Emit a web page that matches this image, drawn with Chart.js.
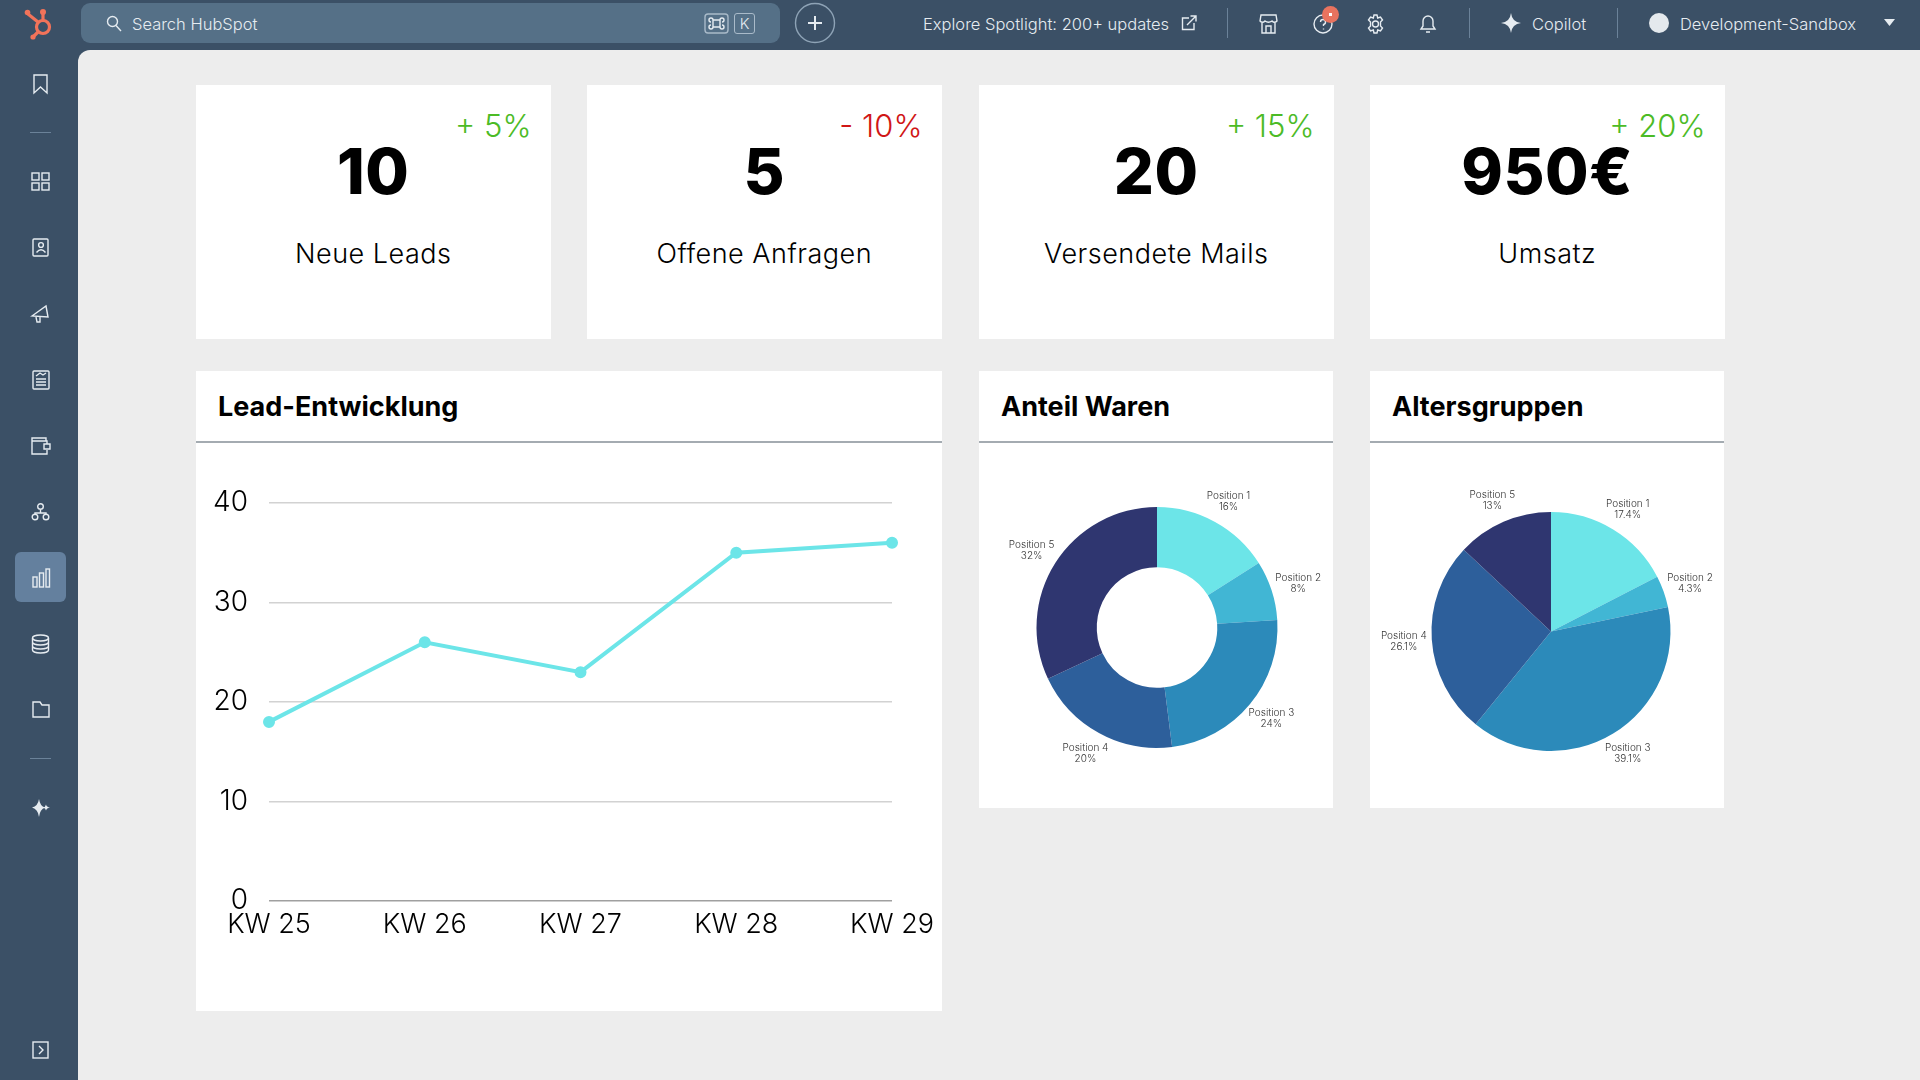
<!DOCTYPE html>
<html>
<head>
  <title>HubSpot Dashboard</title>
  <meta charset="UTF-8">
  <style>
    html, body { margin: 0; padding: 0; }
    body {
      width: 1920px;
      height: 1080px;
      overflow: hidden;
      position: relative;
      background: #3b5066;
      font-family: Inter, Arial, sans-serif;
    }
    .abs { position: absolute; }
    #content {
      left: 78px; top: 50px; width: 1842px; height: 1030px;
      background: #ededed;
      border-top-left-radius: 12px;
    }
    #search {
      left: 81px; top: 3px; width: 699px; height: 40px;
      background: #557087;
      border-radius: 9px;
    }
    .bar-text {
      color: #e6ecf1;
      font-size: 16.5px;
      font-weight: 300;
      white-space: nowrap;
      line-height: 20px;
    }
    .divider { width: 1px; height: 30px; top: 8px; background: #6b8299; }
    .card { background: #fff; }
    .kpi-change {
      position: absolute; right: 19px; top: 22px;
      font-size: 31px; font-weight: 300; line-height: 38px;
      white-space: nowrap;
    }
    .kpi-value {
      position: absolute; left: 0; width: 100%; top: 48px;
      text-align: center;
      font-size: 63px; font-weight: 800; line-height: 76px; color: #000;
      letter-spacing: 0.5px;
    }
    .kpi-label {
      position: absolute; left: 0; width: 100%; top: 152px;
      text-align: center;
      font-size: 27px; font-weight: 300; line-height: 34px; color: #000;
      letter-spacing: 0.5px;
    }
    .panel-title {
      position: absolute; left: 22px; top: 18px;
      font-size: 27px; font-weight: 700; line-height: 36px; color: #000;
      white-space: nowrap;
    }
    .panel-line {
      position: absolute; left: 0; right: 0; top: 70px; height: 2px;
      background: #a4abb1;
    }
    canvas { position: absolute; }
    svg { position: absolute; overflow: visible; fill: none; stroke: #e6ecf1; stroke-width: 1.4; }
  </style>
  <script src="https://cdn.jsdelivr.net/npm/chart.js"></script>
</head>
<body>
  <div id="content" class="abs"></div>

  <!-- TOP BAR -->
  <svg style="left:22px;top:5px" width="38" height="36" viewBox="0 0 38 36">
    <g stroke="#f2735a" stroke-width="3.2" fill="none">
      <circle cx="21" cy="22" r="6.5"/>
      <path d="M21 15 V8"/><path d="M16 17 L6 9"/><path d="M16 27 L12 31"/>
    </g>
    <g fill="#f2735a" stroke="none">
      <circle cx="21" cy="7" r="3"/><circle cx="5.5" cy="7.5" r="2.8"/><circle cx="11" cy="32" r="2.6"/>
    </g>
  </svg>
  <div id="search" class="abs"></div>
  <svg style="left:105px;top:14px" width="18" height="18" viewBox="0 0 18 18"><circle cx="7.5" cy="7.5" r="5"/><path d="M11 11.5 L16 17"/></svg>
  <div class="abs bar-text" style="left:132px;top:14px">Search HubSpot</div>
  <svg style="left:704px;top:13px" width="25" height="21" viewBox="0 0 25 21"><rect x="1" y="1" width="23" height="19" rx="3" stroke="#a9bac9"/><path d="M9 7 H16 V14 H9 Z M9 7 a2 2 0 1 0 -2 2 M16 7 a2 2 0 1 1 2 2 M9 14 a2 2 0 1 1 -2 -2 M16 14 a2 2 0 1 0 2 -2"/></svg>
  <div class="abs" style="left:734px;top:13px;width:19px;height:19px;border:1px solid #a9bac9;border-radius:3px;color:#e6ecf1;font-size:15px;font-weight:300;text-align:center;line-height:19px">K</div>
  <svg style="left:795px;top:3px" width="40" height="40" viewBox="0 0 40 40"><circle cx="20" cy="20" r="19.5" stroke="#8ea3b6"/><path d="M20 13 V27 M13 20 H27" stroke-width="2"/></svg>
  <div class="abs bar-text" style="left:923px;top:14px">Explore Spotlight: 200+ updates</div>
  <svg style="left:1181px;top:15px" width="16" height="16" viewBox="0 0 16 16"><path d="M8 3 H1.5 V14.5 H13 V8 M6 10 L14.5 1.5 M9.5 1 H15 V6.5"/></svg>
  <div class="abs divider" style="left:1227px"></div>
  <svg style="left:1259px;top:14px" width="19" height="20" viewBox="0 0 19 20"><path d="M2 1 H17 L18 7 Q15.5 9.5 13 7 Q9.5 9.5 6 7 Q3.5 9.5 1 7 Z M3 9 V19 H16 V9 M7 19 V12 H12 V19"/></svg>
  <svg style="left:1313px;top:14px" width="20" height="20" viewBox="0 0 20 20"><circle cx="10" cy="10" r="9"/><path d="M7.5 8 a2.5 2.5 0 1 1 3 2.5 V12 M10.5 14.5 V15.5"/></svg>
  <div class="abs" style="left:1322px;top:6px;width:17px;height:17px;border-radius:50%;background:#e8735f"></div>
  <div class="abs" style="left:1329px;top:13px;width:3px;height:3px;background:#fff"></div>
  <svg style="left:1366px;top:14px" width="19" height="20" viewBox="0 0 19 20"><circle cx="9.5" cy="10" r="3"/><path d="M8 1 H11 L11.7 4 L14.5 3 L16.5 6 L14.5 8 L14.5 12 L16.5 14 L14.5 17 L11.7 16 L11 19 H8 L7.3 16 L4.5 17 L2.5 14 L4.5 12 L4.5 8 L2.5 6 L4.5 3 L7.3 4 Z"/></svg>
  <svg style="left:1420px;top:14px" width="16" height="20" viewBox="0 0 16 20"><path d="M1 15 H15 L13 12 V7 a5 5 0 0 0 -10 0 V12 Z M6 18 H10"/></svg>
  <div class="abs divider" style="left:1469px"></div>
  <svg style="left:1501px;top:13px" width="20" height="20" viewBox="0 0 20 20"><path d="M10 0 Q11 9 20 10 Q11 11 10 20 Q9 11 0 10 Q9 9 10 0 Z" fill="#e6ecf1" stroke="none"/></svg>
  <div class="abs bar-text" style="left:1532px;top:14px">Copilot</div>
  <div class="abs divider" style="left:1617px"></div>
  <div class="abs" style="left:1649px;top:13px;width:20px;height:20px;border-radius:50%;background:#e4e9ed"></div>
  <div class="abs bar-text" style="left:1680px;top:14px">Development-Sandbox</div>
  <svg style="left:1884px;top:19px" width="11" height="8" viewBox="0 0 11 8"><path d="M0 0 H11 L5.5 7 Z" fill="#e6ecf1" stroke="none"/></svg>

  <!-- SIDEBAR -->
  <svg style="left:33px;top:74px" width="15" height="20" viewBox="0 0 15 20"><path d="M1 1 H14 V19 L7.5 13 L1 19 Z"/></svg>
  <div class="abs" style="left:30px;top:132px;width:21px;height:1px;background:#6b8299"></div>
  <svg style="left:31px;top:172px" width="19" height="19" viewBox="0 0 19 19"><rect x="1" y="1" width="7" height="7"/><rect x="11" y="1" width="7" height="7"/><rect x="1" y="11" width="7" height="7"/><rect x="11" y="11" width="7" height="7"/></svg>
  <svg style="left:32px;top:238px" width="17" height="19" viewBox="0 0 17 19"><rect x="1" y="1" width="15" height="17" rx="1"/><circle cx="9" cy="7" r="2.4"/><path d="M4.5 14.5 Q9 9 13.5 14.5"/></svg>
  <svg style="left:31px;top:304px" width="19" height="19" viewBox="0 0 19 19"><path d="M1 12 L15 2 L17 13 Z M5 13 L6 18 H9 L9 13"/></svg>
  <svg style="left:32px;top:370px" width="18" height="20" viewBox="0 0 18 20"><rect x="1" y="1" width="16" height="18" rx="1"/><path d="M4 9 H14 M4 12 H14 M4 15 H14 M4 6 L8 3 L11 5 L14 3"/></svg>
  <svg style="left:31px;top:437px" width="20" height="18" viewBox="0 0 20 18"><path d="M15 4 V1 H1 V17 H16 V13 M1 4 H16 V7 M13 7 H19 V12 H13 Z"/></svg>
  <svg style="left:32px;top:503px" width="17" height="18" viewBox="0 0 17 18"><circle cx="8.5" cy="3.5" r="2.8"/><circle cx="3" cy="14" r="2.8"/><circle cx="14" cy="14" r="2.8"/><path d="M8.5 6.5 V10 M3 11 V10 H14 V11"/></svg>
  <div class="abs" style="left:15px;top:552px;width:51px;height:50px;background:#64809e;border-radius:6px"></div>
  <svg style="left:32px;top:568px" width="18" height="20" viewBox="0 0 18 20"><rect x="1" y="9" width="4" height="10"/><rect x="7.5" y="5" width="4" height="14"/><rect x="14" y="1" width="3.5" height="18"/></svg>
  <svg style="left:31px;top:634px" width="19" height="20" viewBox="0 0 19 20"><ellipse cx="9.5" cy="4" rx="8" ry="3"/><path d="M1.5 4 V16 a8 3 0 0 0 16 0 V4 M1.5 8 a8 3 0 0 0 16 0 M1.5 12 a8 3 0 0 0 16 0"/></svg>
  <svg style="left:32px;top:701px" width="18" height="17" viewBox="0 0 18 17"><path d="M1 1 H8 L10 4 H17 V16 H1 Z"/></svg>
  <div class="abs" style="left:30px;top:758px;width:21px;height:1px;background:#6b8299"></div>
  <svg style="left:31px;top:798px" width="20" height="20" viewBox="0 0 20 20"><path d="M8 1 Q9 8 14 9.5 Q9 11 8 19 Q7 11 1 9.5 Q7 8 8 1 Z M15 6.5 Q15.5 9 19 9.5 Q15.5 10 15 12.5 Q14.5 10 12 9.5 Q14.5 9 15 6.5 Z" fill="#e6ecf1" stroke="none"/></svg>
  <svg style="left:32px;top:1041px" width="17" height="18" viewBox="0 0 17 18"><rect x="1" y="1" width="15" height="16"/><path d="M7 5 L11 9 L7 13"/></svg>

  <!-- KPI CARDS, filled from the arrays below -->
  <div id="kpis"></div>

  <!-- PANELS -->
  <div class="abs card" style="left:196px;top:371px;width:745.5px;height:640px">
    <div class="panel-title">Lead-Entwicklung</div>
    <div class="panel-line"></div>
  </div>
  <div class="abs card" style="left:979px;top:371px;width:354px;height:437px">
    <div class="panel-title">Anteil Waren</div>
    <div class="panel-line"></div>
  </div>
  <div class="abs card" style="left:1370px;top:371px;width:354px;height:437px">
    <div class="panel-title">Altersgruppen</div>
    <div class="panel-line"></div>
  </div>

  <canvas id="leadChart" width="746" height="568" style="left:196px;top:443px"></canvas>
  <canvas id="warenChart" width="354" height="365" style="left:980px;top:444.5px"></canvas>
  <canvas id="alterChart" width="354" height="365" style="left:1374px;top:449px"></canvas>

  <script>
    const kpiChanges = ["+ 5%", "- 10%", "+ 15%", "+ 20%"];
    const kpiValues = ["10", "5", "20", "950€"];
    const kpiLabels = ["Neue Leads", "Offene Anfragen", "Versendete Mails", "Umsatz"];
    const kpiColors = ["#4cbb26", "#d01616", "#4cbb26", "#4cbb26"];
    const kpiLefts = [196, 587, 979, 1370];

    const weeks = ["KW 25", "KW 26", "KW 27", "KW 28", "KW 29"];
    const leads = [18, 26, 23, 35, 36];

    const positions = ["Position 1", "Position 2", "Position 3", "Position 4", "Position 5"];
    const warenShare = [16, 8, 24, 20, 32];
    const alterShare = [17.4, 4.3, 39.1, 26.1, 13];
    const sliceColors = ["#6ce5e8", "#41b6d4", "#2c8aba", "#2d5f9b", "#2f3670"];

    const kpiBox = document.getElementById("kpis");
    kpiLabels.forEach(function (label, i) {
      const card = document.createElement("div");
      card.className = "abs card";
      card.style.cssText = "left:" + kpiLefts[i] + "px;top:85px;width:354.5px;height:254px";
      card.innerHTML =
        '<div class="kpi-change" style="color:' + kpiColors[i] + '">' + kpiChanges[i] + "</div>" +
        '<div class="kpi-value">' + kpiValues[i] + "</div>" +
        '<div class="kpi-label">' + label + "</div>";
      kpiBox.appendChild(card);
    });

    // labels around the slices, two lines: name and percent
    const sliceLabels = {
      id: "sliceLabels",
      afterDatasetsDraw(chart) {
        const ctx = chart.ctx;
        const arcs = chart.getDatasetMeta(0).data;
        ctx.save();
        ctx.font = "300 10px Inter";
        ctx.fillStyle = "#333";
        ctx.textAlign = "center";
        ctx.textBaseline = "middle";
        arcs.forEach(function (arc, i) {
          const mid = (arc.startAngle + arc.endAngle) / 2;
          const x = arc.x + Math.cos(mid) * (arc.outerRadius + 28);
          const y = arc.y + Math.sin(mid) * (arc.outerRadius + 23);
          ctx.fillText(chart.data.labels[i], x, y - 5.5);
          ctx.fillText(chart.data.datasets[0].data[i] + "%", x, y + 5.5);
        });
        ctx.restore();
      }
    };

    new Chart(document.getElementById("leadChart"), {
      type: "line",
      data: {
        labels: weeks,
        datasets: [{
          data: leads,
          borderColor: "#6ce5e8",
          backgroundColor: "#6ce5e8",
          borderWidth: 4,
          pointRadius: 4,
          pointHoverRadius: 4,
          tension: 0,
          fill: false
        }]
      },
      options: {
        responsive: false,
        animation: false,
        layout: { padding: { top: 60, right: 0, bottom: 0, left: 0 } },
        plugins: { legend: { display: false }, tooltip: { enabled: false } },
        scales: {
          x: {
            afterFit(axis) { axis.height = 110; },
            grid: { display: false, drawTicks: false },
            border: { display: false },
            ticks: {
              color: "#000",
              font: { family: "Inter", size: 27, weight: "300" },
              padding: 8,
              maxRotation: 0
            }
          },
          y: {
            min: 0,
            max: 40,
            afterFit(axis) { axis.width = 73; },
            grid: {
              drawTicks: false,
              lineWidth: 1.5,
              color(ctx) { return ctx.tick.value === 0 ? "#a0a0a0" : "#d2d2d2"; }
            },
            border: { display: false },
            ticks: {
              stepSize: 10,
              color: "#000",
              font: { family: "Inter", size: 28, weight: "300" },
              padding: 21
            }
          }
        }
      }
    });

    function sliceChart(id, type, values, radius, cutout) {
      new Chart(document.getElementById(id), {
        type: type,
        data: {
          labels: positions,
          datasets: [{ data: values, backgroundColor: sliceColors, borderWidth: 0 }]
        },
        options: {
          responsive: false,
          animation: false,
          radius: radius,
          cutout: cutout,
          plugins: { legend: { display: false }, tooltip: { enabled: false } }
        },
        plugins: [sliceLabels]
      });
    }

    sliceChart("warenChart", "doughnut", warenShare, 120.5, "50%");
    sliceChart("alterChart", "pie", alterShare, 119.5, 0);
  </script>
</body>
</html>
